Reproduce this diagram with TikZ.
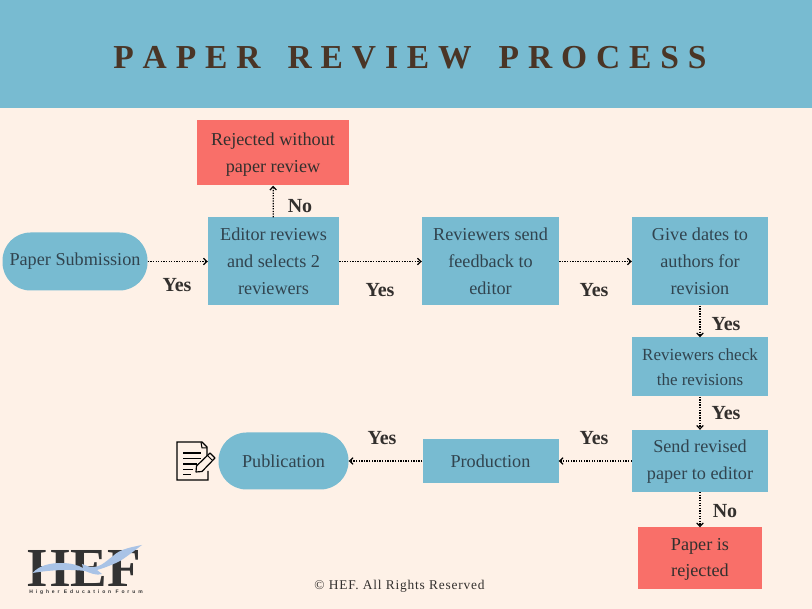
\documentclass[tikz,border=0pt]{standalone}
\usepackage{fontspec}
\setmainfont{Liberation Serif}
\newfontfamily\tagfont{Liberation Sans}
\usetikzlibrary{arrows.meta}
\definecolor{bgc}{HTML}{FEF1E7}
\definecolor{bluec}{HTML}{78BBD1}
\definecolor{redc}{HTML}{F96F69}
\definecolor{inkc}{HTML}{31444F}
\definecolor{titlec}{HTML}{4A3526}
\definecolor{lab}{HTML}{33302E}
\definecolor{birdc}{HTML}{A9C3E6}
\definecolor{hefc}{HTML}{333333}
\newcommand{\tg}{\hspace{8.9pt}}
\newcommand{\wg}{\hspace{27pt}}
\newcommand{\dn}[1]{\rule{0pt}{#1}}
\tikzset{
 x=1pt,y=-1pt,
 boxn/.style={fill=bluec,draw=none,align=center,inner sep=0pt,text=inkc,font=\fontsize{18.2}{26.8}\selectfont,minimum width=#1},
 redn/.style={fill=redc,draw=none,align=center,inner sep=0pt,text=lab,font=\fontsize{18.2}{26.8}\selectfont,minimum width=#1},
 pill/.style={fill=bluec,draw=none,rounded corners=28pt,inner sep=0pt,text=inkc,font=\fontsize{18.2}{21}\selectfont,minimum width=#1},
 conn/.style={draw=black,line width=1.3pt,dash pattern=on 1.3pt off 1.3pt,-{Straight Barb[length=3.5pt,width=6.5pt,line width=1.2pt]}},
 yes/.style={font=\bfseries\fontsize{20}{22}\selectfont,text=lab,inner sep=0pt},
}
\begin{document}
\begin{tikzpicture}
\useasboundingbox (0,0) rectangle (812,609);
\fill[bgc] (0,0) rectangle (812,609);
\fill[bluec] (0,0) rectangle (812,108);
\node[inner sep=0pt,text=titlec,font=\bfseries\fontsize{33.5}{36}\selectfont] (title) at (410,58) {P\tg A\tg P\tg E\tg R\wg R\tg E\tg V\tg I\tg E\tg W\wg P\tg R\tg O\tg C\tg E\tg S\tg S};
\node[pill=145pt,minimum height=58pt] (sub) at (75,261.5) {Paper Submission};
\node[boxn=131pt,minimum height=88pt] (ed) at (273.5,261.5) {Editor reviews\\and selects 2\\reviewers};
\node[redn=152pt,minimum height=65pt] (rej) at (273,153) {\dn{16pt}Rejected without\\paper review};
\node[boxn=137pt,minimum height=88pt] (rev) at (490.5,261.5) {Reviewers send\\feedback to\\editor};
\node[boxn=136pt,minimum height=88pt] (dates) at (700,261.5) {Give dates to\\authors for\\revision};
\node[boxn=136pt,minimum height=59pt,font=\fontsize{17}{25}\selectfont] (chk) at (700,367) {Reviewers check\\the revisions};
\node[boxn=136pt,minimum height=62pt] (send) at (700,461) {\dn{14pt}Send revised\\paper to editor};
\node[boxn=136pt,minimum height=44pt] (prod) at (490.5,461) {Production};
\node[pill=130pt,minimum height=57pt] (pub) at (283.5,461) {Publication};
\node[redn=124pt,minimum height=62pt] (rej2) at (700,558.5) {\dn{14pt}Paper is\\rejected};
\draw[conn] (sub) -- (ed);
\draw[conn] (ed) -- (rev);
\draw[conn] (rev) -- (dates);
\draw[conn] (ed) -- (rej);
\draw[conn] (dates) -- (chk);
\draw[conn] (chk) -- (send);
\draw[conn] (send) -- (prod);
\draw[conn] (prod) -- (pub);
\draw[conn] (send) -- (rej2);
\node[yes] (y1) at (177,285) {Yes};
\node[yes] (y2) at (380,290) {Yes};
\node[yes] (y3) at (594,290) {Yes};
\node[yes] (y4) at (726,324) {Yes};
\node[yes] (y5) at (726,413) {Yes};
\node[yes] (y6) at (594,438) {Yes};
\node[yes] (y7) at (382,438) {Yes};
\node[yes] (n1) at (300,206) {No};
\node[yes] (n2) at (725,511) {No};
\node[inner sep=0pt,text=lab,font=\fontsize{13.4}{15}\selectfont] (copy) at (399.5,586) {\addfontfeature{LetterSpace=6}© HEF. All Rights Reserved};
% document icon
\draw[black,line width=1.3pt,line join=miter] (208,471) -- (208,480) -- (177,480) -- (177,442) -- (202,442) -- (207,447) -- (207,457);
\draw[black,line width=1pt] (201,442) -- (202,448) -- (207,448);
\draw[black,line width=1.3pt] (183,453) -- (201,453) (183,458.5) -- (201,458.5) (183,464) -- (197,464) (183,469.5) -- (193,469.5) (183,474.5) -- (191,474.5);
\draw[black,line width=1.2pt,line join=round,fill=bgc] (196,472) -- (196.5,466) -- (210,453) -- (215,458) -- (202,471.5) -- cycle;
\draw[black,line width=1pt] (207.5,455.5) -- (212.5,460.5);
% logo
\node[inner sep=0pt,text=hefc,font=\bfseries\fontsize{55}{55}\selectfont] (hef) at (84.5,568.5) {HEF};
\fill[birdc] (32.5,573) .. controls (40,565) and (50,563) .. (62,563) .. controls (70,563) and (78,565) .. (83,568) -- (82,564) -- (90,567) .. controls (100,568) and (105,562) .. (113,556) .. controls (120,549) and (132,547) .. (142,545) .. controls (135,550) and (128,556) .. (120,561) .. controls (112,565) and (104,568) .. (97,570) -- (102,574) .. controls (97,576) and (90,573) .. (85,571) .. controls (70,569) and (50,570) .. (32.5,573) -- cycle;
\node[inner sep=0pt,text=hefc,font=\tagfont\bfseries\fontsize{5}{5}\selectfont] (tag) at (86,592.5) {\addfontfeature{LetterSpace=58}Higher Education Forum};
\end{tikzpicture}
\end{document}
